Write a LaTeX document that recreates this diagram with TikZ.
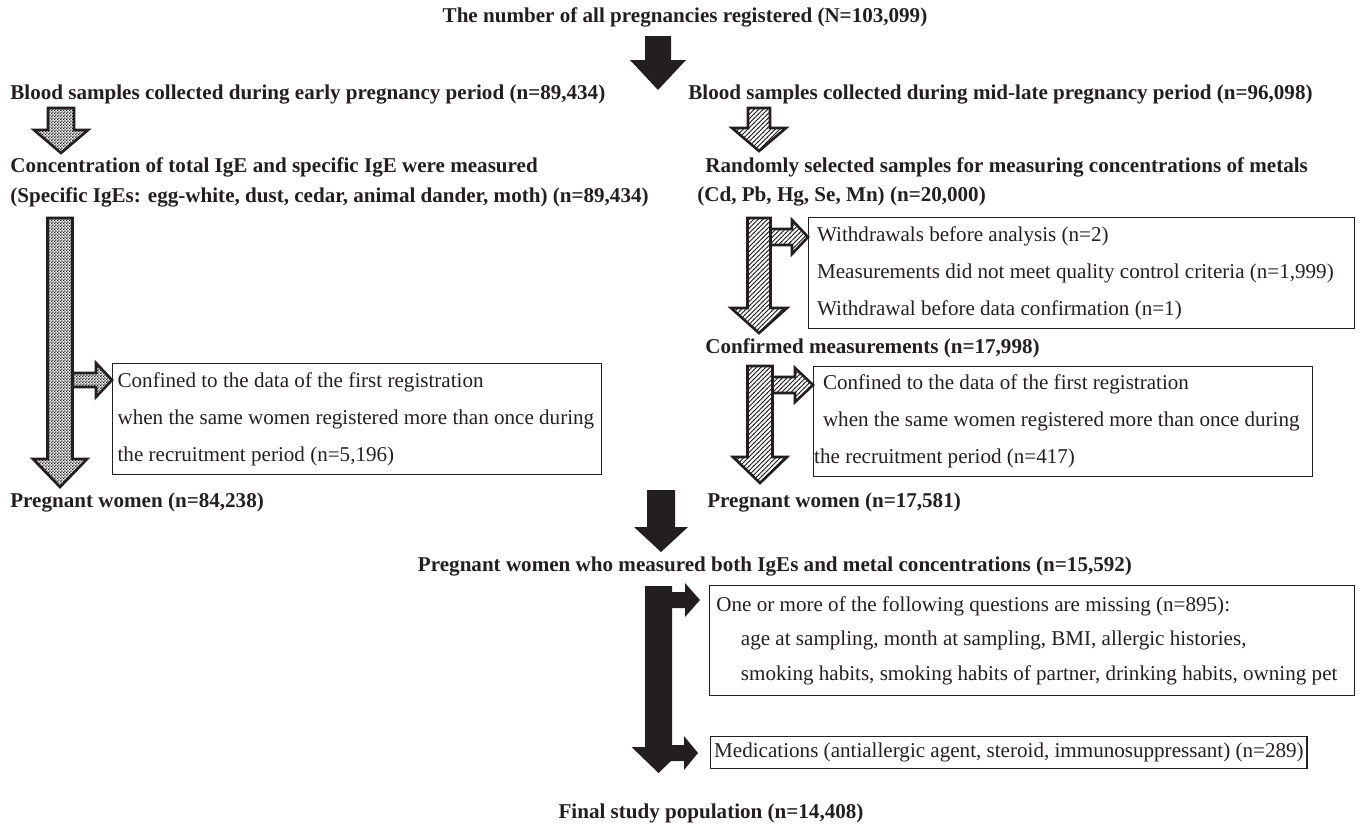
\documentclass[tikz,border=0pt]{standalone}
\usepackage{fontspec}
\setmainfont{Liberation Serif}
\usetikzlibrary{patterns}

\definecolor{ink}{RGB}{35,31,32}

% fill patterns of the block arrows
\pgfdeclarepatternformonly{finechecker}{\pgfpointorigin}{\pgfpoint{1.6pt}{1.6pt}}{\pgfpoint{1.6pt}{1.6pt}}{
  \pgfpathrectangle{\pgfpointorigin}{\pgfpoint{0.8pt}{0.8pt}}
  \pgfpathrectangle{\pgfpoint{0.8pt}{0.8pt}}{\pgfpoint{0.8pt}{0.8pt}}
  \pgfusepath{fill}}
\pgfdeclarepatternformonly{finehatch}{\pgfpoint{-1pt}{-1pt}}{\pgfpoint{4pt}{4pt}}{\pgfpoint{2.6pt}{2.6pt}}{
  \pgfsetlinewidth{0.5pt}
  \pgfpathmoveto{\pgfpoint{-0.2pt}{-0.2pt}}
  \pgfpathlineto{\pgfpoint{2.8pt}{2.8pt}}
  \pgfusepath{stroke}}

% block arrows: [style]{x}{top}{head start}{tip}{half shaft}{half head}
\newcommand{\dnblock}[7][]{\draw[#1] (#2-#6,#3) -- (#2+#6,#3) -- (#2+#6,#4) -- (#2+#7,#4) -- (#2,#5) -- (#2-#7,#4) -- (#2-#6,#4) -- cycle;}
% [style]{x start}{y}{head start}{tip}{half shaft}{half head}
\newcommand{\rtblock}[7][]{\draw[#1] (#2,#3-#6) -- (#4,#3-#6) -- (#4,#3-#7) -- (#5,#3) -- (#4,#3+#7) -- (#4,#3+#6) -- (#2,#3+#6) -- cycle;}

\tikzset{
  lbl/.style={font=\fontsize{12}{14}\selectfont\bfseries, inner sep=0pt, text=ink},
  exclbox/.style={draw=ink, line width=0.8pt, anchor=north west, inner sep=0pt},
  boxtext/.style={font=\fontsize{12}{21}\selectfont, align=left, inner sep=0pt, text=ink, anchor=west},
  checkarrow/.style={draw=ink, line width=1.5pt, pattern=finechecker, pattern color=ink},
  hatcharrow/.style={draw=ink, line width=1.5pt, pattern=finehatch, pattern color=ink},
  solidarrow/.style={fill=ink, draw=none}
}

\begin{document}
\begin{tikzpicture}[x=0.02cm, y=-0.02cm]
        \useasboundingbox (0,0) rectangle (1366,836);

        %registered
        \node[lbl] (allpreg) at (685,17) {The number of all pregnancies registered (N=103,099)};
        \dnblock[solidarrow]{658}{36}{60}{90}{13}{28}

        %blood samples
        \node[lbl, anchor=west] (earlyblood) at (10,95) {Blood samples collected during early pregnancy period (n=89,434)};
        \node[lbl, anchor=west] (midblood) at (688,95) {Blood samples collected during mid-late pregnancy period (n=96,098)};
        \dnblock[checkarrow]{61}{108}{130}{153}{13}{27}
        \dnblock[hatcharrow]{759}{108}{128}{151}{11}{27}

        %IgE branch
        \node[lbl, anchor=west] (igemeas) at (10,167) {Concentration of total IgE and specific IgE were measured};
        \node[lbl, anchor=west] (igelist) at (10,197) {(Specific IgEs: egg-white, dust, cedar, animal dander, moth) (n=89,434)};
        \dnblock[checkarrow]{60}{218}{459}{487}{12.5}{27}
        \rtblock[checkarrow]{72.5}{380}{96}{112}{7}{17}
        \node[exclbox, minimum width=9.78cm, minimum height=2.22cm] (dupleft) at (112,363) {};
        \node[boxtext] (dupleftt) at ([xshift=3pt]dupleft.west) {Confined to the data of the first registration\\when the same women registered more than once during\\the recruitment period (n=5,196)};
        \node[lbl, anchor=west] (pregleft) at (10,503) {Pregnant women (n=84,238)};

        %metal branch
        \node[lbl, anchor=west] (metalsel) at (705,167) {Randomly selected samples for measuring concentrations of metals};
        \node[lbl, anchor=west] (metallist) at (697,197) {(Cd, Pb, Hg, Se, Mn) (n=20,000)};
        \dnblock[hatcharrow]{759}{218}{308}{333}{11.5}{28}
        \rtblock[hatcharrow]{770.5}{237}{792}{808}{8}{17}
        \node[exclbox, minimum width=10.92cm, minimum height=2.22cm] (exclmetal) at (808,217) {};
        \node[boxtext] (exclmetalt) at ([xshift=5pt]exclmetal.west) {Withdrawals before analysis (n=2)\\Measurements did not meet quality control criteria (n=1,999)\\Withdrawal before data confirmation (n=1)};
        \node[lbl, anchor=west] (confirmed) at (705,348) {Confirmed measurements (n=17,998)};
        \dnblock[hatcharrow]{760}{366}{457}{483}{12.5}{27}
        \rtblock[hatcharrow]{772.5}{385}{795}{813}{8}{17}
        \node[exclbox, minimum width=9.98cm, minimum height=2.2cm] (dupright) at (813,366) {};
        \node[boxtext] (duprightt) at ([xshift=0.5pt]dupright.west) {\hspace*{5pt}Confined to the data of the first registration\\\hspace*{5pt}when the same women registered more than once during\\the recruitment period (n=417)};
        \node[lbl, anchor=west] (pregright) at (707,503) {Pregnant women (n=17,581)};

        %both
        \dnblock[solidarrow]{661}{490}{527}{552}{14}{27}
        \node[lbl] (pregboth) at (775,567) {Pregnant women who measured both IgEs and metal concentrations (n=15,592)};
        \dnblock[solidarrow]{658.5}{586}{747}{773}{13.5}{27}
        \rtblock[solidarrow]{670}{600}{685}{700}{8}{17}
        \rtblock[solidarrow]{670}{753}{684}{698}{8}{17}
        \node[exclbox, minimum width=12.9cm, minimum height=2.2cm] (missing) at (709,585) {};
        \node[boxtext, font=\fontsize{12}{19.5}\selectfont] (missingt) at ([xshift=4pt]missing.west) {One or more of the following questions are missing (n=895):\\\hspace*{14pt}age at sampling, month at sampling, BMI, allergic histories,\\\hspace*{14pt}smoking habits, smoking habits of partner, drinking habits, owning pet};
        \node[exclbox, font=\fontsize{12}{14}\selectfont, text=ink, inner xsep=2pt, minimum height=0.64cm] (meds) at (710,736) {Medications (antiallergic agent, steroid, immunosuppressant) (n=289)};

        %final
        \node[lbl] (final) at (711,813) {Final study population (n=14,408)};
\end{tikzpicture}
\end{document}
